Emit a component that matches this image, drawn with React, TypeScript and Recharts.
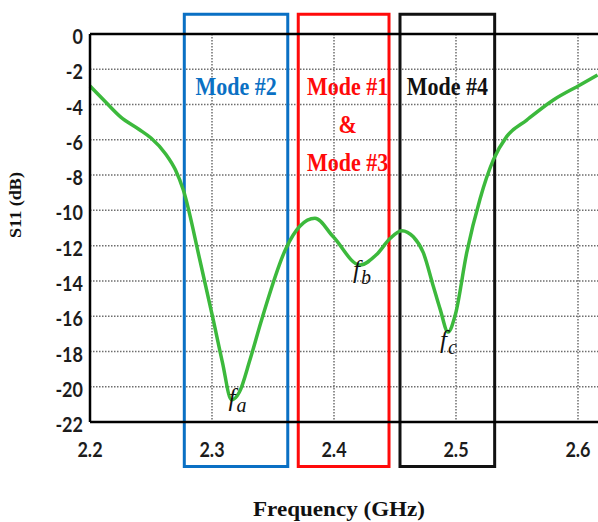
import React from 'react';
import {
  LineChart,
  Line,
  XAxis,
  YAxis,
  CartesianGrid,
  ReferenceArea,
  ReferenceDot,
  ReferenceLine,
} from 'recharts';

// Reflection coefficient sweep, frequency in GHz, S11 in dB
const freqGHz = [
  2.2, 2.212, 2.225, 2.24, 2.25, 2.262, 2.27, 2.2765, 2.29, 2.301, 2.3085, 2.316,
  2.3225, 2.331, 2.3407, 2.361, 2.372, 2.3844, 2.3994, 2.4213, 2.435, 2.4459,
  2.4555, 2.465, 2.4732, 2.4814, 2.487, 2.4935, 2.4995, 2.5088, 2.5197, 2.5306,
  2.5415, 2.558, 2.5798, 2.6016, 2.616,
];
const s11dB = [
  -2.95, -3.8, -4.7, -5.4, -5.9, -6.8, -7.7, -8.85, -12.8, -16.2, -18.6, -20.75,
  -20.3, -18.5, -16.2, -12.1, -10.9, -10.45, -11.5, -13.1, -12.5, -11.6,
  -11.15, -11.5, -12.4, -14.3, -15.6, -16.9, -15.9, -12.4, -9.35, -7.14,
  -5.82, -4.88, -3.74, -2.89, -2.32,
];

const xTicks = [2.2, 2.3, 2.4, 2.5, 2.6];
const yTicks = [0, -2, -4, -6, -8, -10, -12, -14, -16, -18, -20, -22];

// Operating bands for each mode (GHz) and the text drawn inside them
const modeNames = [['Mode #2'], ['Mode #1', '&', 'Mode #3'], ['Mode #4']];
const modeStart = [2.2773, 2.3707, 2.4541];
const modeEnd = [2.3621, 2.4451, 2.5317];
const modeColors = ['#0A70C4', '#FF0A0A', '#111111'];
const bandTop = 1.12;
const bandBottom = -24.53;

// Resonance markers
const resonanceNames = ['a', 'b', 'c'];
const resonanceFreq = [2.316, 2.4213, 2.4935];
const resonanceS11 = [-20.75, -13.1, -16.9];
const resonanceOffset = [
  [-3, 6],
  [-7, 13],
  [-8, 16],
];

const data = freqGHz.map((f, i) => ({ f, s11: s11dB[i] }));

const TICK_FONT = "Lato, 'Open Sans', 'Liberation Sans', sans-serif";
const SERIF = "'Liberation Serif', 'DejaVu Serif', serif";

const XTick = (props: any) => {
  const { x, y, payload } = props;
  return (
    <text
      transform={`translate(${x},${y + 27}) scale(1,1.18)`}
      textAnchor="middle"
      dominantBaseline="central"
      fontFamily={TICK_FONT}
      fontWeight={700}
      fontSize={18}
      fill="#1c1c1c"
    >
      {Number(payload.value).toFixed(1)}
    </text>
  );
};

const YTick = (props: any) => {
  const { x, y, payload } = props;
  return (
    <text
      transform={`translate(${x - 7},${y + 2}) scale(1,1.18)`}
      textAnchor="end"
      dominantBaseline="central"
      fontFamily={TICK_FONT}
      fontWeight={700}
      fontSize={18}
      fill="#1c1c1c"
    >
      {payload.value}
    </text>
  );
};

const modeLabel = (lines: string[], color: string, shift: number) => (props: any) => {
  const vb = props.viewBox || {};
  const cx = vb.x + vb.width / 2 + shift;
  const baselines = [81, 119, 157];
  return (
    <g>
      {lines.map((t, i) => (
        <text
          key={i}
          transform={`translate(${cx},${vb.y + baselines[i]}) scale(1,1.15)`}
          textAnchor="middle"
          fontFamily={SERIF}
          fontWeight={700}
          fontSize={22}
          fill={color}
        >
          {t}
        </text>
      ))}
    </g>
  );
};

const resonanceLabel = (sub: string, dx: number, dy: number) => (props: any) => {
  const vb = props.viewBox || {};
  return (
    <text
      x={vb.x + dx}
      y={vb.y + dy}
      fontFamily={SERIF}
      fontStyle="italic"
      fontSize={25}
      fill="#111"
    >
      f
      <tspan fontSize={20} dy={6} dx={1}>
        {sub}
      </tspan>
    </text>
  );
};

export default function App() {
  return (
    <div style={{ position: 'absolute', left: 0, top: 0, width: 598, height: 522, background: '#fff' }}>
      <LineChart
        width={598}
        height={522}
        data={data}
        margin={{ top: 34, right: 0, bottom: 70, left: 0 }}
      >
        <CartesianGrid
          stroke="#6e6e6e"
          strokeWidth={1.5}
          strokeDasharray="1.5 1.5"
          horizontalValues={yTicks.slice(1, -1)}
          verticalValues={xTicks.slice(1)}
        />
        <XAxis
          type="number"
          dataKey="f"
          domain={[2.2, 2.6164]}
          ticks={xTicks}
          tick={<XTick />}
          tickLine={false}
          tickSize={0}
          tickMargin={0}
          height={30}
          axisLine={{ stroke: '#000', strokeWidth: 2.5 }}
        />
        <YAxis
          type="number"
          domain={[-22, 0]}
          ticks={yTicks}
          tick={<YTick />}
          tickLine={false}
          tickSize={0}
          tickMargin={0}
          width={90}
          axisLine={{ stroke: '#000', strokeWidth: 2.5 }}
        />
        <ReferenceLine y={0} stroke="#000" strokeWidth={2.5} ifOverflow="visible" />
        <Line
          type="monotone"
          dataKey="s11"
          stroke="#3CB93C"
          strokeWidth={3.5}
          dot={false}
          isAnimationActive={false}
        />
        {modeNames.map((lines, i) => (
          <ReferenceArea
            key={`mode-${i}`}
            x1={modeStart[i]}
            x2={modeEnd[i]}
            y1={bandBottom}
            y2={bandTop}
            ifOverflow="visible"
            fill="none"
            fillOpacity={0}
            stroke={modeColors[i]}
            strokeWidth={3}
            label={modeLabel(lines, modeColors[i], i === 1 ? 4 : 0)}
          />
        ))}
        {resonanceNames.map((n, i) => (
          <ReferenceDot
            key={`res-${n}`}
            x={resonanceFreq[i]}
            y={resonanceS11[i]}
            r={0}
            fill="none"
            stroke="none"
            ifOverflow="visible"
            label={resonanceLabel(n, resonanceOffset[i][0], resonanceOffset[i][1])}
          />
        ))}
      </LineChart>
      <svg
        width={598}
        height={522}
        style={{ position: 'absolute', left: 0, top: 0, pointerEvents: 'none' }}
      >
        <text
          x={339}
          y={516}
          textAnchor="middle"
          fontFamily={SERIF}
          fontWeight={700}
          fontSize={20}
          textLength={172}
          lengthAdjust="spacingAndGlyphs"
          fill="#111"
        >
          Frequency (GHz)
        </text>
        <text
          transform="translate(20.5,205) rotate(-90)"
          textAnchor="middle"
          fontFamily={SERIF}
          fontWeight={700}
          fontSize={17}
          textLength={66}
          lengthAdjust="spacingAndGlyphs"
          fill="#111"
        >
          S11 (dB)
        </text>
      </svg>
    </div>
  );
}
